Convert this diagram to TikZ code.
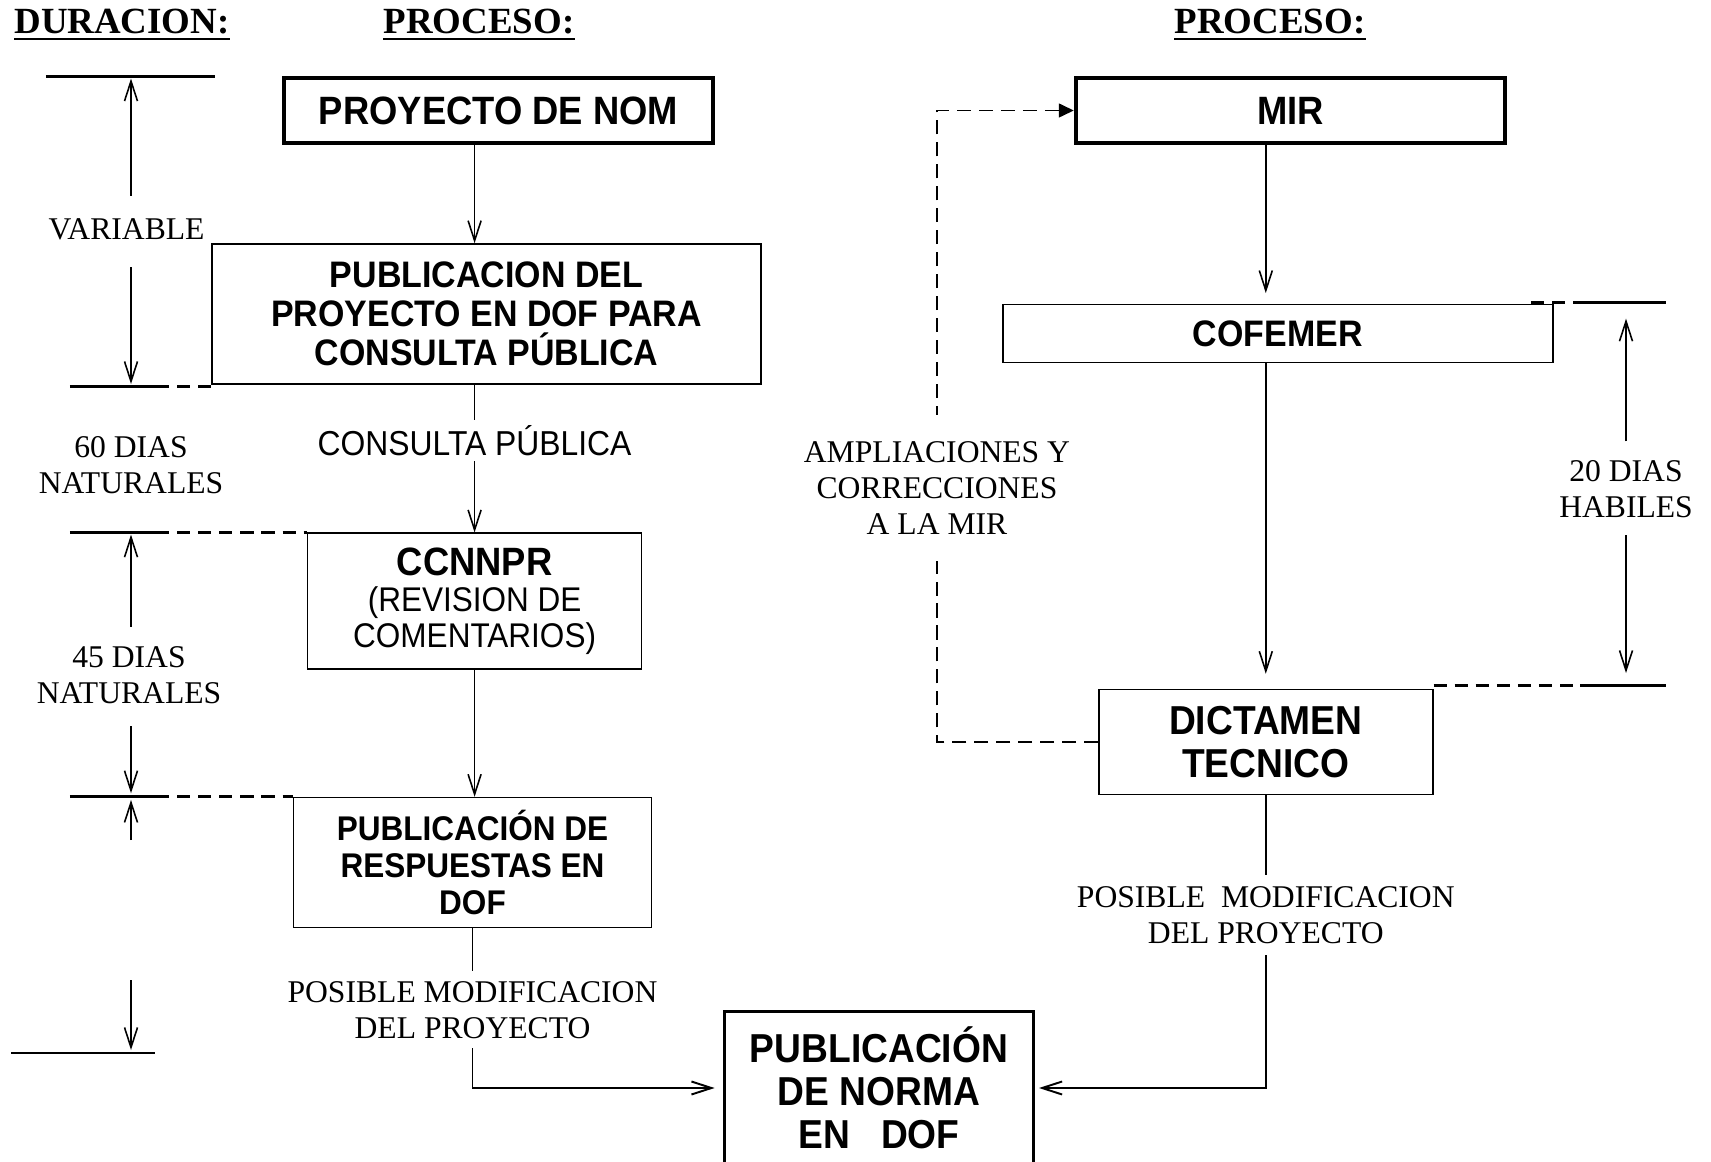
\documentclass[tikz,border=0pt]{standalone}
\usepackage{fontspec}
\setmainfont{Liberation Serif}
\newfontfamily\boxfont[FakeStretch=0.92]{Liberation Sans}
\usetikzlibrary{arrows.meta,positioning,calc}
\tikzset{
  % Process boxes
  mainbox/.style={draw,line width=2.5pt,minimum width=8.58cm,minimum height=1.30cm,
                  align=center,inner sep=2pt,font=\boxfont\bfseries\fontsize{22.5}{27}\selectfont},
  procbox/.style={draw,line width=0.9pt,align=center,inner sep=2pt,
                  font=\boxfont\bfseries\fontsize{21}{22.2}\selectfont},
  % Headings and duration labels
  hdr/.style={inner sep=0pt,font=\bfseries\fontsize{21}{25}\selectfont},
  durlb/.style={align=center,inner sep=0pt,font=\fontsize{18}{20.5}\selectfont},
  % Connectors & labels
  fl/.style={-{Straight Barb[length=4mm,width=2.6mm]},line width=0.9pt},
  fb/.style={-{Triangle[length=3mm,width=2.8mm]},line width=0.9pt,dash pattern=on 8pt off 4.5pt},
  fllb/.style={fill=white,align=center,inner xsep=2pt,inner ysep=5.5pt,
               font=\fontsize{18}{20.5}\selectfont},
  dur/.style={-{Straight Barb[length=4mm,width=2.6mm]},line width=0.9pt},
  tickln/.style={line width=1.5pt},
  tickdash/.style={line width=1.5pt,dash pattern=on 7.5pt off 4.5pt}
}
\begin{document}
\begin{tikzpicture}[x=0.02cm,y=-0.02cm]
  \useasboundingbox (0,0) rectangle (1711,1162);

  % Headings
  \node[hdr,anchor=base] (dur) at (122,34) {DURACION:};
  \node[hdr,anchor=base] (proc1) at (479,34) {PROCESO:};
  \node[hdr,anchor=base] (proc2) at (1270,34) {PROCESO:};
  \draw[line width=1.4pt] ([yshift=-3pt]dur.base west) -- ([yshift=-3pt]dur.base east);
  \draw[line width=1.4pt] ([yshift=-3pt]proc1.base west) -- ([yshift=-3pt]proc1.base east);
  \draw[line width=1.4pt] ([yshift=-3pt]proc2.base west) -- ([yshift=-3pt]proc2.base east);

  % Left process
  \node[mainbox] (nom) at (498.5,110.5) {PROYECTO DE NOM};
  \node[procbox,minimum width=10.98cm,minimum height=2.80cm] (pub) at (486.5,314)
    {PUBLICACION DEL\\PROYECTO EN DOF PARA\\CONSULTA PÚBLICA};
  \node[procbox,font=\boxfont\fontsize{19.5}{20.5}\selectfont,minimum width=6.68cm,minimum height=2.71cm] (ccn) at (474.6,601)
    {{\bfseries\fontsize{22.5}{22}\selectfont CCNNPR}\\(REVISION DE\\COMENTARIOS)};
  \node[procbox,font=\boxfont\bfseries\fontsize{19.5}{21}\selectfont,minimum width=7.16cm,minimum height=2.60cm] (resp) at (472.5,862.6)
    {PUBLICACIÓN DE\\RESPUESTAS EN\\DOF};
  \node[procbox,line width=1.3pt,font=\boxfont\bfseries\fontsize{23}{24.5}\selectfont,minimum width=6.18cm,minimum height=3.06cm] (norma) at (879,1088)
    {PUBLICACIÓN\\DE NORMA\\EN\ \ \ DOF};

  % Right process
  \node[mainbox] (mir) at (1290.4,110.5) {MIR};
  \node[procbox,minimum width=11.0cm,minimum height=1.16cm] (cof) at (1277.8,333.4) {COFEMER};
  \node[procbox,font=\boxfont\bfseries\fontsize{23}{24.2}\selectfont,minimum width=6.68cm,minimum height=2.10cm] (dic) at (1265.8,742)
    {DICTAMEN\\TECNICO};

  % Duration labels
  \node[durlb] (var) at (126.6,229) {VARIABLE};
  \node[durlb] (n60) at (131,465.4) {60 DIAS\\NATURALES};
  \node[durlb] (n45) at (129,675) {45 DIAS\\NATURALES};
  \node[durlb] (h20) at (1626,489.4) {20 DIAS\\HABILES};

  % Duration marks
  \coordinate (d0) at (131,76.4);
  \coordinate (d1) at (131,386.3);
  \coordinate (d2) at (131,532.5);
  \coordinate (d3) at (131,796.6);
  \coordinate (d4) at (131,1053);
  \coordinate (d3a) at (131,840);
  \coordinate (d4a) at (131,980);
  \coordinate (h0) at (1626,302.3);
  \coordinate (h1) at (1626,685.3);
  \coordinate (ret) at (937,0);

  \draw[tickln] (45.8,76.4) -- (215,76.4);
  \draw[tickln] (69.8,386.3) -- (156,386.3);
  \draw[tickdash] (156,386.3) -- (d1 -| pub.west);
  \draw[tickln] (69.8,532.5) -- (156,532.5);
  \draw[tickdash] (156,532.5) -- (d2 -| ccn.west);
  \draw[tickln] (69.8,796.6) -- (156,796.6);
  \draw[tickdash] (156,796.6) -- (d3 -| resp.west);
  \draw[tickln] (11,1053) -- (155,1053);
  \draw[tickln] (1580,302.3) -- (1666,302.3);
  \draw[tickdash] (1531,302.3) -- (1580,302.3);
  \draw[tickln] (1580,685.3) -- (1666,685.3);
  \draw[tickdash] (h1 -| dic.east) -- (1580,685.3);

  \draw[dur,shorten <=12.6pt,shorten >=1.2pt] (var.north -| d0) -- (d0);
  \draw[dur,shorten <=15.6pt,shorten >=1.3pt] (var.south -| d0) -- (d1);
  \draw[dur,shorten <=10.9pt,shorten >=1.2pt] (n45.north -| d0) -- (d2);
  \draw[dur,shorten <=12.6pt,shorten >=1.9pt] (n45.south -| d0) -- (d3);
  \draw[dur,shorten >=1.9pt] (d3a) -- (d3);
  \draw[dur,shorten >=1.7pt] (d4a) -- (d4);
  \draw[dur,shorten <=10.8pt,shorten >=9.3pt] (h20.north) -- (h0);
  \draw[dur,shorten <=9.5pt,shorten >=7pt] (h20.south) -- (h1);

  % Left flow
  \draw[fl] (nom.south -| ccn.north) -- (pub.north -| ccn.north);
  \draw[fl] (pub.south -| ccn.north) -- node[pos=0.38,fill=white,inner sep=3pt,font=\boxfont\fontsize{19.7}{22}\selectfont] {CONSULTA PÚBLICA} (ccn.north);
  \draw[fl] (ccn.south) -- (resp.north -| ccn.south);
  \draw[fl,line width=1.1pt,shorten >=5pt] (resp.south) |- node[pos=0.255,fllb] {POSIBLE MODIFICACION\\DEL PROYECTO} (norma.west);

  % Right flow
  \draw[fl,shorten >=6pt] (mir.south -| dic.north) -- (cof.north -| dic.north);
  \draw[fl,shorten >=8.5pt] (cof.south -| dic.north) -- (dic.north);
  \draw[fl,line width=1.1pt,shorten >=2.5pt] (dic.south) |- node[pos=0.204,fllb,inner ysep=6.5pt] {POSIBLE\ \ MODIFICACION\\DEL PROYECTO} (norma.east);
  \draw[fb] (dic.west) -- (dic.west -| ret) |- node[pos=0.201,fllb,inner ysep=15pt] {AMPLIACIONES Y\\CORRECCIONES\\A LA MIR} (mir.west);
\end{tikzpicture}
\end{document}
